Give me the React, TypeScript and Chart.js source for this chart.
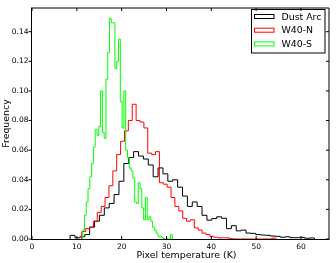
import React, { useEffect, useRef } from "react";
import { Chart, registerables } from "chart.js";

Chart.register(...registerables);

// Histogram bin edges (K) and normalised frequencies
const dustEdges = [
  8.5, 9.59, 10.68, 11.77, 12.86, 13.95, 15.04, 16.13, 17.22, 18.31,
  19.4, 20.49, 21.58, 22.67, 23.76, 24.85, 25.94, 27.03, 28.12, 29.21,
  30.3, 31.39, 32.48, 33.57, 34.66, 35.75, 36.84, 37.93, 39.02, 40.11,
  41.2, 42.29, 43.38, 44.47, 45.56, 46.65, 47.74, 48.83, 49.92, 51.01,
  52.1, 53.19, 54.28, 55.37, 56.46, 57.55, 58.64, 59.73, 60.82, 61.91,
  63.0,
];
const dustFreq = [
  0.0025, 0.0008, 0.0015, 0.003, 0.008, 0.012, 0.016, 0.021, 0.024, 0.03,
  0.039, 0.051, 0.055, 0.059, 0.056, 0.054, 0.05, 0.042, 0.048, 0.044,
  0.039, 0.04, 0.035, 0.029, 0.022, 0.025, 0.022, 0.016, 0.0127, 0.0138,
  0.015, 0.014, 0.007, 0.009, 0.0055, 0.006, 0.004, 0.0038, 0.003, 0.0027,
  0.0025, 0.002, 0.0018, 0.0012, 0.0015, 0.0009, 0.0009, 0.0011, 0.0005, 0.0007,
];

const northEdges = [
  11.1, 11.97, 12.83, 13.7, 14.56, 15.43, 16.3, 17.16, 18.03, 18.89,
  19.76, 20.63, 21.49, 22.36, 23.22, 24.09, 24.96, 25.82, 26.69, 27.55,
  28.42, 29.29, 30.15, 31.02, 31.88, 32.75, 33.62, 34.48, 35.35, 36.21,
  37.08, 37.95, 38.81, 39.68, 40.54, 41.41, 42.28, 43.14, 44.01, 44.87,
  45.74, 46.61, 47.47, 48.34, 49.2, 50.07, 50.94, 51.8, 52.67, 53.53,
  54.4,
];
const northFreq = [
  0.005, 0.007, 0.008, 0.012, 0.018, 0.022, 0.028, 0.036, 0.046, 0.057,
  0.066, 0.073, 0.08, 0.091, 0.08, 0.079, 0.075, 0.058, 0.057, 0.059,
  0.038, 0.037, 0.035, 0.028, 0.022, 0.019, 0.014, 0.012, 0.013, 0.0075,
  0.006, 0.004, 0.003, 0.0018, 0.0012, 0.0008, 0.0008, 0.0008, 0.0002, 0,
  0, 0, 0, 0, 0, 0, 0, 0, 0, 0.0006,
];

const southEdges = [
  11.3, 11.7, 12.1, 12.5, 12.9, 13.3, 13.7, 14.1, 14.5, 14.9,
  15.3, 15.7, 16.1, 16.5, 16.9, 17.3, 17.7, 18.1, 18.5, 18.9,
  19.3, 19.7, 20.1, 20.5, 20.9, 21.3, 21.7, 22.1, 22.5, 22.9,
  23.3, 23.7, 24.1, 24.5, 24.9, 25.3, 25.7, 26.1, 26.5, 26.9,
  27.3, 27.7, 28.1, 28.5, 28.9, 29.3, 29.7, 30.1, 30.5, 30.9,
  31.3,
];
const southFreq = [
  0.006, 0.016, 0.025, 0.034, 0.042, 0.051, 0.062, 0.074, 0.07, 0.076,
  0.1, 0.072, 0.068, 0.108, 0.126, 0.149, 0.146, 0.146, 0.115, 0.12,
  0.135, 0.093, 0.075, 0.1, 0.06, 0.055, 0.048, 0.046, 0.041, 0.025,
  0.024, 0.038, 0.034, 0.021, 0.013, 0.028, 0.013, 0.015, 0.012, 0.008,
  0.006, 0.004, 0.0015, 0.002, 0.001, 0, 0, 0, 0, 0.003,
];

const seriesNames = ["Dust Arc", "W40-N", "W40-S"];
const seriesColors = ["#000000", "#ff0000", "#00ff00"];

const xTicks = [0, 10, 20, 30, 40, 50, 60];
const yTicks = [0, 0.02, 0.04, 0.06, 0.08, 0.1, 0.12, 0.14];
const xMax = 66.25;
const yMax = 0.156;

const xTitle = "Pixel temperature (K)";
const yTitle = "Frequency";

const FONT = '"DejaVu Sans", "Liberation Sans", sans-serif';

function stepPoints(edges: number[], freq: number[]) {
  const pts = [{ x: edges[0], y: 0 }];
  freq.forEach((v, i) => pts.push({ x: edges[i], y: v }));
  pts.push({ x: edges[edges.length - 1], y: 0 });
  return pts;
}

const framePlugin = {
  id: "frame",
  afterDatasetsDraw(chart: any) {
    const { ctx, chartArea: a, scales } = chart;
    ctx.save();
    ctx.strokeStyle = "#000";
    ctx.lineWidth = 1;
    ctx.beginPath();
    // spines
    ctx.moveTo(a.left - 0.5, a.top);
    ctx.lineTo(a.left - 0.5, a.bottom + 1);
    ctx.moveTo(a.left - 1, a.bottom + 0.5);
    ctx.lineTo(a.right, a.bottom + 0.5);
    ctx.moveTo(a.left - 1, a.top);
    ctx.lineTo(a.right, a.top);
    ctx.moveTo(a.right, a.top);
    ctx.lineTo(a.right, a.bottom + 1);
    // x ticks (inward, top and bottom)
    xTicks.forEach((v) => {
      const px = scales.x.getPixelForValue(v);
      ctx.moveTo(px, a.bottom);
      ctx.lineTo(px, a.bottom - 3);
      ctx.moveTo(px, a.top);
      ctx.lineTo(px, a.top + 3);
    });
    // y ticks (outward left, inward right)
    yTicks.forEach((v) => {
      const py = scales.y.getPixelForValue(v);
      ctx.moveTo(a.left - 0.5, py);
      ctx.lineTo(a.left - 3.5, py);
      ctx.moveTo(a.right, py);
      ctx.lineTo(a.right - 3, py);
    });
    ctx.stroke();

    // axis titles
    ctx.fillStyle = "#000";
    ctx.font = `9.4px ${FONT}`;
    ctx.textAlign = "center";
    ctx.textBaseline = "middle";
    ctx.fillText(xTitle, 186.5, 255.5);
    ctx.save();
    ctx.translate(9.3, (a.top + a.bottom) / 2);
    ctx.rotate(-Math.PI / 2);
    ctx.textBaseline = "alphabetic";
    ctx.fillText(yTitle, 0, 0);
    ctx.restore();

    // legend
    ctx.strokeStyle = "#000";
    ctx.lineWidth = 1;
    ctx.strokeRect(251.5, 9.5, 73.5, 43.5);
    const rowY = [16.5, 30.2, 43.9];
    ctx.textAlign = "left";
    seriesNames.forEach((name, i) => {
      ctx.strokeStyle = seriesColors[i];
      ctx.strokeRect(254.5, rowY[i] - 2, 19.5, 4);
      ctx.fillStyle = "#000";
      ctx.fillText(name, 281.5, rowY[i] + 0.6);
    });
    ctx.restore();
  },
};

export default function App() {
  const ref = useRef<HTMLCanvasElement>(null);
  useEffect(() => {
    if (!ref.current) return;
    const series = [
      { edges: southEdges, freq: southFreq, idx: 2 },
      { edges: northEdges, freq: northFreq, idx: 1 },
      { edges: dustEdges, freq: dustFreq, idx: 0 },
    ];
    const chart = new Chart(ref.current, {
      type: "line",
      data: {
        datasets: series.map((s) => ({
          label: seriesNames[s.idx],
          data: stepPoints(s.edges, s.freq),
          borderColor: seriesColors[s.idx],
          borderWidth: 1,
          pointRadius: 0,
          fill: false,
          stepped: "before" as const,
        })),
      },
      options: {
        animation: false,
        responsive: false,
        devicePixelRatio: 1,
        layout: { padding: { top: 5, right: 7, bottom: 0, left: 0 } },
        plugins: { legend: { display: false }, tooltip: { enabled: false } },
        scales: {
          x: {
            type: "linear",
            min: 0,
            max: xMax,
            grid: { display: false, drawTicks: false },
            border: { display: false },
            ticks: {
              autoSkip: false,
              maxRotation: 0,
              padding: 4,
              color: "#000",
              font: { family: FONT, size: 7.5 },
              callback: (v: any) => String(v),
            },
            afterBuildTicks: (s: any) => {
              s.ticks = xTicks.map((v) => ({ value: v }));
            },
            afterFit: (s: any) => {
              s.height = 24;
            },
          },
          y: {
            type: "linear",
            min: 0,
            max: yMax,
            grid: { display: false, drawTicks: false },
            border: { display: false },
            ticks: {
              padding: 3.5,
              color: "#000",
              font: { family: FONT, size: 7.5 },
              callback: (v: any) => Number(v).toFixed(2),
            },
            afterBuildTicks: (s: any) => {
              s.ticks = yTicks.map((v) => ({ value: v }));
            },
            afterFit: (s: any) => {
              s.width = 32;
            },
          },
        },
      },
      plugins: [framePlugin],
    });
    return () => chart.destroy();
  }, []);
  return (
    <div style={{ position: "absolute", left: 0, top: 0, width: 336, height: 263, background: "#fff" }}>
      <canvas ref={ref} width={336} height={263} style={{ display: "block" }} />
    </div>
  );
}
